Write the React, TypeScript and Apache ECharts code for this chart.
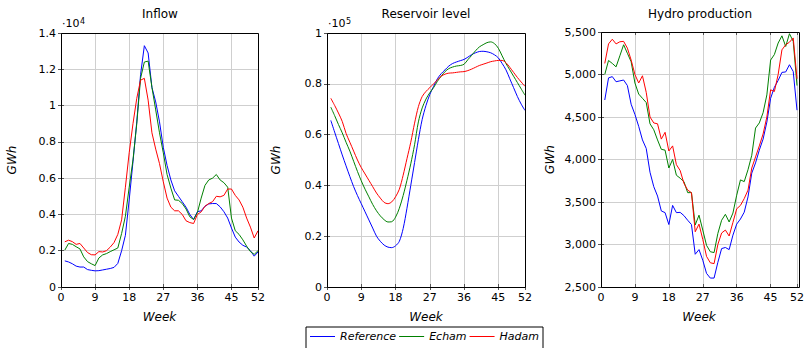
import React, { useEffect, useRef } from "react";
import * as echarts from "echarts";

// Week numbers (x values)
const weeks = [
  1, 2, 3, 4, 5, 6, 7, 8, 9, 10, 11, 12, 13, 14, 15, 16, 17, 18, 19, 20, 21, 22, 23, 24, 25, 26,
  27, 28, 29, 30, 31, 32, 33, 34, 35, 36, 37, 38, 39, 40, 41, 42, 43, 44, 45, 46, 47, 48, 49, 50, 51, 52,
];
const seriesNames = ["Reference", "Echam", "Hadam"];
const panelTitles = ["Inflow", "Reservoir level", "Hydro production"];

// Inflow (GWh)
const inflowReference = [
  1440, 1380, 1280, 1150, 1100, 1100, 960, 920, 890, 900, 940, 980, 1020, 1080, 1300, 2000, 2850, 4800, 6900, 9100,
  11700, 13300, 12900, 11000, 10200, 9100, 7700, 6700, 5900, 5300, 5000, 4700, 4400, 4000, 3720, 4150, 4200, 4450,
  4580, 4600, 4600, 4420, 4150, 3800, 3250, 2750, 2480, 2300, 2200, 2000, 1700, 1930,
];
const inflowEcham = [
  2030, 2400, 2350, 2220, 2100, 1660, 1400, 1280, 1180, 1600, 1770, 1840, 1950, 2050, 2150, 2950, 3900, 5500, 7000,
  9000, 11500, 12400, 12450, 11000, 9760, 8500, 7400, 6200, 5450, 4800, 4780, 4600, 4300, 3870, 3720, 4100, 4900,
  5600, 5900, 6000, 6200, 5900, 5750, 5500, 3800, 3100, 2900, 2600, 2250, 1950, 1800, 2000,
];
const inflowHadam = [
  2490, 2580, 2500, 2350, 2400, 2150, 1900, 1780, 1770, 1950, 1930, 2000, 2200, 2450, 2900, 3700, 5500, 7400, 9000,
  10400, 11400, 11500, 10300, 8500, 7600, 6800, 5800, 4900, 4400, 4200, 4200, 4000, 3650, 3550, 3500, 4000, 4140,
  4450, 4600, 4700, 5000, 4970, 5050, 5400, 5400, 5050, 4800, 4400, 3800, 3300, 2700, 3100,
];

// Reservoir level (GWh)
const levelReference = [
  65600, 61000, 56500, 52000, 47700, 43500, 39500, 36000, 32800, 29600, 26400, 23200, 20000, 18000, 16500, 15700,
  15500, 16200, 18000, 23000, 31000, 40000, 49000, 58000, 66000, 71500, 75800, 79000, 82000, 84000, 85500, 87000,
  88000, 88600, 89100, 89600, 90500, 91500, 92200, 92700, 92800, 92600, 92200, 91400, 90200, 88000, 85500, 82000,
  78500, 75000, 72000, 69500,
];
const levelEcham = [
  70800, 67500, 64000, 60700, 57000, 53500, 49500, 45500, 41800, 38500, 35500, 32500, 30000, 28000, 26500, 25600,
  25700, 27500, 31000, 36000, 42000, 48500, 56000, 65000, 70500, 74000, 76500, 78500, 81000, 83000, 84800, 86000,
  86600, 87000, 87200, 87700, 89500, 91200, 93000, 94500, 95400, 96200, 96500, 95800, 94000, 91000, 88000, 85500,
  83000, 80500, 78000, 75500,
];
const levelHadam = [
  74300, 71500, 68500, 65200, 60500, 57000, 53500, 50000, 47000, 44500, 42000, 39500, 37000, 35000, 33300, 32800,
  33500, 35500, 38500, 44000, 50500, 57000, 64500, 71000, 75000, 77000, 78500, 80000, 81500, 83000, 83800, 84200,
  84300, 84500, 84700, 84800, 85200, 85800, 86500, 87200, 87700, 88200, 88700, 89000, 89200, 89200, 88300, 86500,
  84500, 82500, 80700, 79000,
];

// Hydro production (GWh)
const prodReference = [
  4700, 4960, 4975, 4915, 4925, 4935, 4870, 4650, 4530, 4390, 4230, 4130, 3850, 3680, 3570, 3395, 3375, 3235, 3460,
  3375, 3378, 3340, 3285, 3235, 2885, 2940, 2815, 2660, 2605, 2605, 2790, 2952, 2965, 2940, 3110, 3240, 3300, 3380,
  3560, 3840, 3960, 4110, 4240, 4440, 4720, 4850, 4930, 5025, 5030, 5115, 5035, 4580,
];
const prodEcham = [
  5000, 5165, 5130, 5090, 5220, 5350, 5250, 5150, 4900, 4770, 4720, 4670, 4420, 4350, 4230, 4120, 4110, 3900, 4000,
  3815, 3780, 3740, 3610, 3610, 3230, 3345, 3170, 2990, 2915, 2905, 3130, 3285, 3355, 3265, 3370, 3580, 3760, 3740,
  3880, 4050, 4370, 4430, 4550, 4760, 5170, 5235, 5370, 5455, 5330, 5480, 5390, 4870,
];
const prodHadam = [
  5130, 5360, 5415, 5360, 5385, 5390, 5310, 5170, 5000, 4900, 4985, 4790, 4500, 4430, 4420, 4240, 4320, 4100, 4160,
  3940, 3870, 3720, 3640, 3610, 3150, 3240, 3060, 2860, 2785, 2775, 3000, 3135, 3170, 3100, 3260, 3420, 3460, 3540,
  3640, 3900, 4030, 4160, 4300, 4500, 4820, 4800, 5000, 5290, 5350, 5380, 5430, 4950,
];

const FONT = "DejaVu Sans";
const COLORS = ["#0000ff", "#008000", "#ff0000"];

const grids = [
  { left: 61, top: 33, width: 197, height: 254 },
  { left: 327, top: 33, width: 198, height: 254 },
  { left: 601, top: 32, width: 198, height: 255 },
];

const fmtSci = (div: number) => (v: number) => String(+(v / div).toFixed(2));
const fmtComma = (v: number) => v.toLocaleString("en-US");

export default function App() {
  const ref = useRef<HTMLDivElement>(null);
  useEffect(() => {
    if (!ref.current) return;
    const chart = echarts.init(ref.current, null, { renderer: "svg" });

    const yCfg = [
      { min: 0, max: 14000, interval: 2000, fmt: fmtSci(1e4), nameGap: 43 },
      { min: 0, max: 100000, interval: 20000, fmt: fmtSci(1e5), nameGap: 45 },
      { min: 2500, max: 5500, interval: 500, fmt: fmtComma, nameGap: 45 },
    ];
    const panels = [
      [inflowReference, inflowEcham, inflowHadam],
      [levelReference, levelEcham, levelHadam],
      [prodReference, prodEcham, prodHadam],
    ];

    const xAxis: any[] = [];
    const yAxis: any[] = [];
    grids.forEach((g, i) => {
      xAxis.push({
        type: "value",
        gridIndex: i,
        min: 0,
        max: 52,
        interval: 9,
        name: "Week",
        nameLocation: "middle",
        nameGap: 24,
        nameTextStyle: { fontFamily: FONT, fontSize: 12, fontStyle: "italic", color: "#000" },
        axisLine: { show: false },
        axisTick: { show: true, inside: true, length: 3, lineStyle: { color: "#555" } },
        axisLabel: {
          fontFamily: FONT,
          fontSize: 11,
          color: "#000",
          margin: 5,
          showMinLabel: true,
          showMaxLabel: true,
          hideOverlap: false,
        },
        splitLine: { show: true, lineStyle: { color: "#cfcfcf", width: 1 } },
      });
      xAxis.push({
        type: "value",
        gridIndex: i,
        position: "top",
        min: 0,
        max: 52,
        interval: 9,
        axisLine: { show: false },
        axisTick: { show: true, inside: true, length: 3, lineStyle: { color: "#555" } },
        axisLabel: { show: false },
        splitLine: { show: false },
      });
      const c = yCfg[i];
      yAxis.push({
        type: "value",
        gridIndex: i,
        min: c.min,
        max: c.max,
        interval: c.interval,
        name: "GWh",
        nameLocation: "middle",
        nameGap: c.nameGap,
        nameRotate: 90,
        nameTextStyle: { fontFamily: FONT, fontSize: 12, fontStyle: "italic", color: "#000" },
        axisLine: { show: false },
        axisTick: { show: true, inside: true, length: 3, lineStyle: { color: "#555" } },
        axisLabel: { fontFamily: FONT, fontSize: 11, color: "#000", margin: 5, formatter: c.fmt },
        splitLine: { show: true, lineStyle: { color: "#cfcfcf", width: 1 } },
      });
      yAxis.push({
        type: "value",
        gridIndex: i,
        position: "right",
        min: c.min,
        max: c.max,
        interval: c.interval,
        axisLine: { show: false },
        axisTick: { show: true, inside: true, length: 3, lineStyle: { color: "#555" } },
        axisLabel: { show: false },
        splitLine: { show: false },
      });
    });

    const series: any[] = [];
    panels.forEach((vals, i) => {
      vals.forEach((arr, k) => {
        series.push({
          type: "line",
          name: seriesNames[k],
          xAxisIndex: i * 2,
          yAxisIndex: i * 2,
          data: weeks.map((w, j) => [w, arr[j]]),
          showSymbol: false,
          smooth: i === 1 ? 0.3 : false,
          lineStyle: { color: COLORS[k], width: 1 },
          itemStyle: { color: COLORS[k] },
          z: 3,
        });
      });
    });

    const graphic: any[] = [];
    const titleX = [160, 426, 700];
    panelTitles.forEach((t, i) => {
      graphic.push({
        type: "text",
        x: titleX[i],
        y: 14,
        style: { text: t, fontFamily: FONT, fontSize: 12, fill: "#000", align: "center", verticalAlign: "middle" },
      });
    });
    // scale markers
    const sci = [
      { x: 62, exp: "4" },
      { x: 328, exp: "5" },
    ];
    sci.forEach((s) => {
      graphic.push({
        type: "text",
        x: s.x,
        y: 29,
        style: { text: "·10", fontFamily: FONT, fontSize: 11, fill: "#000", align: "left", verticalAlign: "bottom" },
      });
      graphic.push({
        type: "text",
        x: s.x + 18,
        y: 25,
        style: { text: s.exp, fontFamily: FONT, fontSize: 8, fill: "#000", align: "left", verticalAlign: "bottom" },
      });
    });
    grids.forEach((g) => {
      graphic.push({
        type: "rect",
        z: 100,
        silent: true,
        shape: { x: g.left + 0.5, y: g.top + 0.5, width: g.width, height: g.height },
        style: { fill: "none", stroke: "#000", lineWidth: 1 },
      });
    });

    chart.setOption({
      animation: false,
      backgroundColor: "#fff",
      grid: grids.map((g) => ({ ...g, containLabel: false })),
      xAxis,
      yAxis,
      series,
      graphic,
      legend: {
        data: seriesNames,
        left: 306,
        top: 327,
        orient: "horizontal",
        icon: "rect",
        itemWidth: 25,
        itemHeight: 1,
        itemGap: 3,
        padding: [4, 4, 8, 4],
        borderColor: "#000",
        borderWidth: 1,
        borderRadius: 0,
        textStyle: { fontFamily: FONT, fontSize: 11, fontStyle: "italic", color: "#000" },
      },
    });
    return () => chart.dispose();
  }, []);
  return <div ref={ref} style={{ position: "absolute", left: 0, top: 0, width: 807, height: 348 }} />;
}
